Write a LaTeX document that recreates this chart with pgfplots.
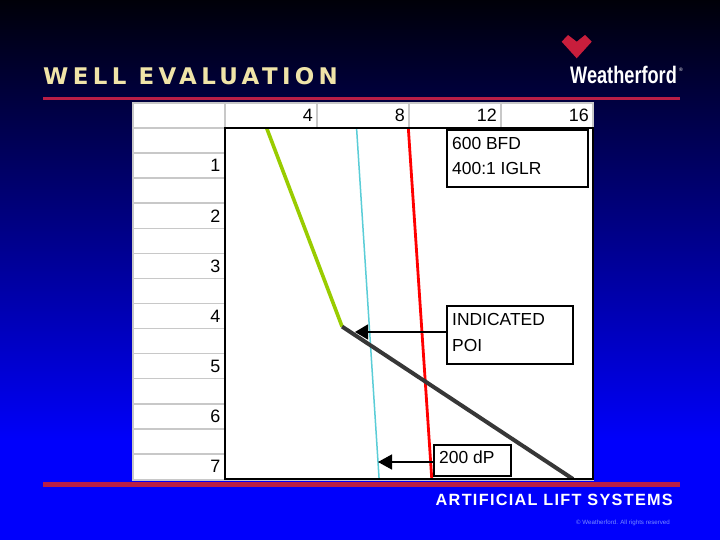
\documentclass[border=0pt]{standalone}
\usepackage{pgfplots}
\pgfplotsset{compat=1.18}
\usetikzlibrary{arrows.meta}
\usepackage{fontspec}
\setmainfont{Liberation Sans}
\newfontfamily\titlefont[LetterSpace=19]{DejaVu Sans}
\newfontfamily\footfont[LetterSpace=8]{Liberation Sans}
\definecolor{titlecream}{RGB}{240,228,168}
\definecolor{slidered}{RGB}{185,30,70}
\definecolor{logored}{RGB}{200,30,60}
\definecolor{ygreen}{RGB}{153,204,0}
\definecolor{darkgrey}{RGB}{55,55,55}
\definecolor{lcyan}{RGB}{90,205,215}
\definecolor{gridgrey}{RGB}{200,200,200}
\definecolor{copyblue}{RGB}{120,140,255}
\definecolor{bgtop}{RGB}{0,0,8}
\definecolor{bgbot}{RGB}{0,0,250}
\definecolor{bgblue}{RGB}{0,0,252}
\begin{document}
\begin{tikzpicture}
\begin{scope}[x=1bp,y=-1bp]
  % background
  \shade[top color=bgtop, bottom color=bgbot] (0,0) rectangle (720,440);
  \fill[bgblue] (0,439.5) rectangle (720,540);
  % title
  \node[anchor=base west, inner sep=0pt, text=titlecream] at (43,84.3)
    {\titlefont\bfseries\fontsize{23}{28}\selectfont WELL EVALUATION};
  \fill[slidered] (43,97.5) rectangle (680,100.5);
  \fill[slidered] (43,482) rectangle (680,487);
  % logo
  \fill[logored] (561.7,41.7) -- (568,35) -- (576.7,41.7) -- (585,35) -- (591.7,41.7) -- (576.7,58.3) -- cycle;
  \node[anchor=base west, inner sep=0pt, text=white] at (570,84)
    {\scalebox{0.76}[1]{\bfseries\fontsize{24}{24}\selectfont Weatherford}};
  \node[anchor=center, inner sep=0pt, text=white] at (681,70) {\fontsize{5}{5}\selectfont ®};
  % footer
  \node[anchor=base east, inner sep=0pt, text=white] at (673,505)
    {\footfont\bfseries\fontsize{16.3}{18}\selectfont ARTIFICIAL LIFT SYSTEMS};
  \node[anchor=base east, inner sep=0pt, text=copyblue] at (670,524)
    {\fontsize{6.2}{7}\selectfont \textcopyright{} Weatherford. All rights reserved};
  % spreadsheet panel
  \fill[white] (133,103) rectangle (593,480);
  \foreach \xx in {225,317,409,501} {\draw[gridgrey, line width=1.5bp] (\xx,103) -- (\xx,128);}
  \foreach \k in {0,...,13} {\draw[gridgrey, line width=1.5bp] (133,128+25.07*\k) -- (225,128+25.07*\k);}
  \draw[gridgrey, line width=1.2bp] (133,103) rectangle (593,480);
\end{scope}

\begin{axis}[
  at={(225bp,-128bp)}, anchor=north west,
  width=368bp, height=351bp, scale only axis,
  xmin=0, xmax=16, ymin=0, ymax=7, y dir=reverse,
  axis background/.style={fill=white},
  axis line style={line width=2.6bp, black},
  axis on top,
  xtick={4,8,12,16}, ytick={1,2,3,4,5,6,7},
  xticklabel pos=upper,
  major tick length=0pt, tick style={draw=none},
  /pgf/number format/assume math mode=true,
  ticklabel style={font=\fontsize{18}{20}\selectfont, inner sep=0pt},
  xticklabel style={anchor=east, xshift=-4bp, yshift=12.5bp},
  yticklabel style={anchor=east, xshift=-4.5bp, yshift=12.5bp},
]
\addplot[lcyan, line width=1.5bp] coordinates {(5.72,0) (6.70,7)};
\addplot[red, line width=2.8bp] coordinates {(7.97,0) (8.99,7)};
\addplot[ygreen, line width=3.6bp] coordinates {(1.81,0) (5.09,3.96)};
\addplot[darkgrey, line width=4bp] coordinates {(5.09,3.96) (15.13,7)};
\end{axis}

\begin{scope}[x=1bp,y=-1bp]
  \draw[black, line width=1.5bp, fill=white] (447,130) rectangle (588,187);
  \node[anchor=base west, inner sep=0pt] at (452,149.5) {\fontsize{17.5}{20}\selectfont 600 BFD};
  \node[anchor=base west, inner sep=0pt] at (452,174.5) {\fontsize{17.5}{20}\selectfont 400:1 IGLR};
  \draw[black, line width=1.5bp, fill=white] (447,306) rectangle (573,364);
  \node[anchor=base west, inner sep=0pt] at (452,325.5) {\fontsize{17.5}{20}\selectfont INDICATED};
  \node[anchor=base west, inner sep=0pt] at (452,351) {\fontsize{17.5}{20}\selectfont POI};
  \draw[black, line width=1.5bp, -{Triangle[length=13bp,width=15bp]}] (447,332) -- (355,332);
  \draw[black, line width=1.5bp, fill=white] (434,445) rectangle (511,476);
  \node[anchor=base west, inner sep=0pt] at (439,463.5) {\fontsize{17.5}{20}\selectfont 200 dP};
  \draw[black, line width=1.5bp, -{Triangle[length=14bp,width=15bp]}] (434,462) -- (378,462);
\end{scope}
\end{tikzpicture}
\end{document}
